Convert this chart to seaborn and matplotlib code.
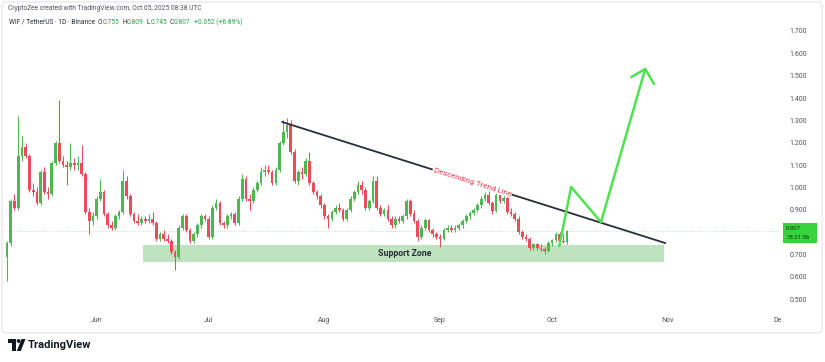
import matplotlib
matplotlib.use("Agg")
import matplotlib.pyplot as plt
from matplotlib.patches import Polygon, Circle, FancyBboxPatch, Rectangle
from matplotlib.transforms import Bbox
import pandas as pd
import seaborn as sns

W, H = 825, 362

# daily WIF/USDT candles
first_day = "2025-05-08"
opens = [0.69, 0.75, 0.94, 0.91, 1.14, 1.18, 1.14, 0.99, 0.98, 0.93,
         1.07, 0.98, 0.97, 1.11, 1.20, 1.12, 1.10, 1.09, 1.11, 1.10,
         1.11, 1.06, 0.89, 0.85, 0.87, 0.95, 0.98, 0.88, 0.83, 0.82,
         0.87, 0.89, 1.03, 0.96, 0.88, 0.85, 0.84, 0.86, 0.85, 0.86,
         0.84, 0.77, 0.79, 0.77, 0.76, 0.71, 0.69, 0.82, 0.87, 0.81,
         0.76, 0.79, 0.83, 0.87, 0.86, 0.78, 0.91, 0.93, 0.84, 0.83,
         0.87, 0.88, 0.84, 0.95, 1.04, 0.95, 0.94, 0.99, 1.02, 1.07,
         1.08, 1.07, 1.02, 1.08, 1.20, 1.25, 1.28, 1.16, 1.03, 1.07,
         1.06, 1.12, 1.02, 0.98, 0.96, 0.92, 0.87, 0.86, 0.89, 0.91,
         0.90, 0.86, 0.90, 0.95, 0.98, 1.01, 0.99, 0.91, 0.94, 1.03,
         0.91, 0.88, 0.90, 0.86, 0.83, 0.86, 0.85, 0.87, 0.94, 0.88,
         0.85, 0.78, 0.82, 0.855, 0.81, 0.79, 0.78, 0.77, 0.81, 0.82,
         0.81, 0.82, 0.83, 0.85, 0.87, 0.885, 0.90, 0.92, 0.95, 0.965,
         0.93, 0.895, 0.965, 0.94, 0.955, 0.89, 0.88, 0.86, 0.80, 0.78,
         0.77, 0.73, 0.745, 0.73, 0.725, 0.715, 0.75, 0.765, 0.79, 0.76, 0.755]
highs = [0.76, 0.95, 0.97, 1.32, 1.23, 1.20, 1.15, 1.02, 1.00, 1.08,
         1.09, 1.00, 1.12, 1.21, 1.39, 1.14, 1.12, 1.20, 1.13, 1.14,
         1.19, 1.07, 0.91, 0.89, 0.96, 1.04, 0.99, 0.89, 0.85, 0.88,
         0.90, 1.08, 1.05, 0.97, 0.89, 0.88, 0.87, 0.87, 0.88, 0.89,
         0.85, 0.80, 0.81, 0.79, 0.77, 0.72, 0.83, 0.88, 0.88, 0.82,
         0.80, 0.84, 0.88, 0.88, 0.87, 0.92, 0.95, 0.94, 0.85, 0.88,
         0.89, 0.89, 0.96, 1.06, 1.05, 0.97, 1.00, 1.03, 1.09, 1.10,
         1.10, 1.08, 1.09, 1.21, 1.30, 1.31, 1.30, 1.17, 1.08, 1.09,
         1.13, 1.16, 1.03, 0.99, 0.97, 0.93, 0.88, 0.90, 0.92, 0.93,
         0.91, 0.91, 0.96, 0.99, 1.03, 1.03, 1.00, 0.95, 1.05, 1.05,
         0.92, 0.91, 0.92, 0.87, 0.87, 0.87, 0.88, 0.95, 0.95, 0.90,
         0.86, 0.83, 0.865, 0.86, 0.82, 0.80, 0.79, 0.82, 0.83, 0.83,
         0.83, 0.84, 0.86, 0.88, 0.895, 0.91, 0.93, 0.96, 0.98, 0.99,
         0.94, 0.99, 0.98, 0.975, 0.965, 0.91, 0.89, 0.87, 0.81, 0.79,
         0.78, 0.75, 0.75, 0.745, 0.735, 0.76, 0.77, 0.80, 0.80, 0.79, 0.809]
lows = [0.58, 0.74, 0.90, 0.90, 1.12, 1.13, 0.98, 0.96, 0.92, 0.92,
        0.97, 0.95, 0.96, 1.10, 1.11, 1.09, 1.01, 1.08, 1.08, 1.08,
        1.05, 0.88, 0.79, 0.83, 0.86, 0.94, 0.87, 0.82, 0.81, 0.81,
        0.86, 0.88, 0.95, 0.87, 0.84, 0.83, 0.83, 0.84, 0.84, 0.83,
        0.76, 0.76, 0.76, 0.75, 0.70, 0.63, 0.68, 0.81, 0.80, 0.75,
        0.75, 0.78, 0.82, 0.85, 0.77, 0.77, 0.90, 0.83, 0.82, 0.82,
        0.86, 0.83, 0.83, 0.94, 0.94, 0.90, 0.93, 0.98, 1.01, 1.05,
        1.06, 1.01, 1.01, 1.07, 1.19, 1.22, 1.15, 1.02, 1.01, 1.04,
        1.05, 1.01, 0.97, 0.95, 0.91, 0.86, 0.82, 0.85, 0.88, 0.89,
        0.85, 0.85, 0.89, 0.94, 0.97, 0.97, 0.90, 0.90, 0.93, 0.90,
        0.87, 0.87, 0.85, 0.82, 0.82, 0.84, 0.84, 0.86, 0.87, 0.84,
        0.76, 0.77, 0.81, 0.80, 0.78, 0.77, 0.735, 0.765, 0.80, 0.80,
        0.80, 0.81, 0.82, 0.84, 0.86, 0.875, 0.89, 0.91, 0.94, 0.92,
        0.88, 0.89, 0.93, 0.93, 0.88, 0.87, 0.85, 0.79, 0.77, 0.76,
        0.72, 0.72, 0.72, 0.715, 0.70, 0.71, 0.74, 0.755, 0.75, 0.75, 0.745]
closes = [0.75, 0.94, 0.91, 1.14, 1.18, 1.14, 0.99, 0.98, 0.93, 1.07,
          0.98, 0.97, 1.11, 1.20, 1.12, 1.10, 1.09, 1.11, 1.10, 1.11,
          1.06, 0.89, 0.85, 0.87, 0.95, 0.98, 0.88, 0.83, 0.82, 0.87,
          0.89, 1.03, 0.96, 0.88, 0.85, 0.84, 0.86, 0.85, 0.86, 0.84,
          0.77, 0.79, 0.77, 0.76, 0.71, 0.69, 0.82, 0.87, 0.81, 0.76,
          0.79, 0.83, 0.87, 0.86, 0.78, 0.91, 0.93, 0.84, 0.83, 0.87,
          0.88, 0.84, 0.95, 1.04, 0.95, 0.94, 0.99, 1.02, 1.07, 1.08,
          1.07, 1.02, 1.08, 1.20, 1.25, 1.28, 1.16, 1.03, 1.07, 1.06,
          1.12, 1.02, 0.98, 0.96, 0.92, 0.87, 0.86, 0.89, 0.91, 0.90,
          0.86, 0.90, 0.95, 0.98, 1.01, 0.99, 0.91, 0.94, 1.03, 0.91,
          0.88, 0.90, 0.86, 0.83, 0.86, 0.85, 0.87, 0.94, 0.88, 0.85,
          0.78, 0.82, 0.855, 0.81, 0.79, 0.78, 0.77, 0.81, 0.82, 0.81,
          0.82, 0.83, 0.85, 0.87, 0.885, 0.90, 0.92, 0.95, 0.965, 0.93,
          0.895, 0.965, 0.94, 0.955, 0.89, 0.88, 0.86, 0.80, 0.78, 0.77,
          0.73, 0.745, 0.73, 0.725, 0.715, 0.75, 0.765, 0.79, 0.76, 0.755, 0.807]

# 0.800 is hidden behind the last-price badge in the original
price_ticks = [0.5, 0.6, 0.7, 0.9, 1.0, 1.1, 1.2, 1.3, 1.4, 1.5, 1.6, 1.7]
month_ticks = ["2025-06-01", "2025-07-01", "2025-08-01", "2025-09-01",
               "2025-10-01", "2025-11-01", "2025-12-01"]
month_labels = ["Jun", "Jul", "Aug", "Sep", "Oct", "Nov", "Dec"]

trend_dates = ["2025-07-20 16:00", "2025-10-31 08:00"]
trend_prices = [1.293, 0.751]
zone_dates = ["2025-06-13 10:00", "2025-10-31 00:00"]
zone_prices = [0.666, 0.744]
path_dates = ["2025-10-02 22:00", "2025-10-06 02:00", "2025-10-14 02:00", "2025-10-25 22:00"]
path_prices = [0.738, 1.002, 0.845, 1.53]
head_dates = ["2025-10-22 05:00", "2025-10-25 22:00", "2025-10-28 07:00"]
head_prices = [1.494, 1.53, 1.463]
last_price = 0.807

UP, DOWN = "#4cb84f", "#ec4b5c"
DARK = "#131722"

sns.set_theme(style="white")
plt.rcParams["font.family"] = ["Roboto", "DejaVu Sans"]

fig = plt.figure(figsize=(W / 100, H / 100), dpi=100)
fig.patch.set_facecolor("white")
ax = fig.add_axes([5 / W, 1 - 312 / H, 776 / W, 284 / H])
ax.set_facecolor("white")

days = pd.date_range(first_day, periods=len(closes), freq="D")
df = pd.DataFrame({"day": days, "o": opens, "h": highs, "l": lows, "c": closes})
df["col"] = [UP if c >= o else DOWN for o, c in zip(df.o, df.c)]
body_lo = df[["o", "c"]].min(axis=1)
body_h = (df.c - df.o).abs().clip(lower=0.005)

# support zone
ax.fill_between(pd.to_datetime(zone_dates), zone_prices[0], zone_prices[1],
                color="#b3dfb3", alpha=0.85, lw=0, zorder=1)
ax.axhline(last_price, color="#b9e0b9", lw=0.6, ls=(0, (1, 1.5)), zorder=1)

ax.vlines(df.day, df.l, df.h, colors=df.col, lw=0.75, zorder=2)
ax.bar(df.day, body_h, bottom=body_lo, width=0.72, color=df.col, lw=0, zorder=3)

sns.lineplot(x=pd.to_datetime(trend_dates), y=trend_prices, ax=ax,
             color="#2a2e39", lw=1.3, zorder=4)
sns.lineplot(x=pd.to_datetime(path_dates), y=path_prices, ax=ax, sort=False,
             color="#4ee24e", lw=1.8, zorder=5)
sns.lineplot(x=pd.to_datetime(head_dates), y=head_prices, ax=ax, sort=False,
             color="#4ee24e", lw=1.8, zorder=5)
ax.set_xlabel("")
ax.set_ylabel("")

ax.text(pd.Timestamp("2025-09-09 14:00"), 1.024, "Descending Trend Line",
        color="#e8404f", fontsize=5.8, rotation=-17.5, rotation_mode="anchor",
        ha="center", va="center", zorder=6,
        bbox=dict(boxstyle="square,pad=0.1", fc="white", ec="none"))
ax.text(pd.Timestamp("2025-08-22 14:00"), 0.703, "Support Zone", color="#2a2e39",
        fontsize=6.3, fontweight="bold", ha="center", va="center", zorder=6)

ax.set_xlim(pd.Timestamp("2025-05-07 11:00"), pd.Timestamp("2025-12-01 07:00"))
ax.set_ylim(0.4427, 1.7134)
ax.set_xticks(pd.to_datetime(month_ticks))
ax.set_xticklabels(month_labels)
ax.set_yticks(price_ticks)
ax.set_yticklabels([f"{p:.3f}" for p in price_ticks])
ax.yaxis.tick_right()
ax.tick_params(axis="y", length=0, pad=6, labelsize=5, labelcolor="#50535e")
ax.tick_params(axis="x", length=0, pad=3.5, labelsize=5, labelcolor="#50535e")
for s in ax.spines.values():
    s.set_visible(False)
clip = Bbox.from_extents(0, 0, 781, H)
for lab in ax.get_xticklabels():
    lab.set_clip_box(clip)
    lab.set_clip_on(True)

# overlay in pixel coordinates for the TradingView chrome
ov = fig.add_axes([0, 0, 1, 1], zorder=10)
ov.set_xlim(0, W)
ov.set_ylim(H, 0)
ov.axis("off")
ov.patch.set_visible(False)
ov.add_patch(FancyBboxPatch((2, 2), 820, 331, boxstyle="round,pad=0,rounding_size=4",
                            fc="none", ec="#e3e4e8", lw=0.8))
ov.add_patch(Rectangle((783, 223), 34, 20, fc="#37d23c", ec="none"))
ov.text(786, 228.5, f"{last_price:.3f}", fontsize=4.3, color="#10310f", va="center")
ov.text(786, 237.5, "15:21:56", fontsize=4.3, color="#10310f", va="center")

ov.text(8, 8, "CryptoZee created with TradingView.com, Oct 05, 2025 08:38 UTC",
        fontsize=4.8, color="#50535e", va="center")
green = "#22a34f"
pieces = [("WIF / TetherUS · 1D · Binance", "#2a2e39", 3), ("O", "#2a2e39", 0),
          ("0.755", green, 3), ("H", "#2a2e39", 0), ("0.809", green, 3),
          ("L", "#2a2e39", 0), ("0.745", green, 3), ("C", "#2a2e39", 0),
          ("0.807", green, 3), ("+0.052 (+6.89%)", green, 0)]
renderer = fig.canvas.get_renderer()
x = 9
for s, c, gap in pieces:
    t = ov.text(x, 22, s, fontsize=4.8, color=c, va="center")
    x += t.get_window_extent(renderer).width + gap

# logo
ov.add_patch(Polygon([(8, 339), (16, 339), (16, 351), (12.3, 351), (12.3, 343), (8, 343)],
                     closed=True, fc=DARK, ec="none"))
ov.add_patch(Circle((18.6, 341), 1.9, fc=DARK, ec="none"))
ov.add_patch(Polygon([(21.5, 339), (25.5, 339), (20.8, 351), (16.8, 351)],
                     closed=True, fc=DARK, ec="none"))
ov.text(28, 345.5, "TradingView", fontsize=8, fontweight="bold", color=DARK, va="center")

fig.savefig("out.png", dpi=100, facecolor="white")
